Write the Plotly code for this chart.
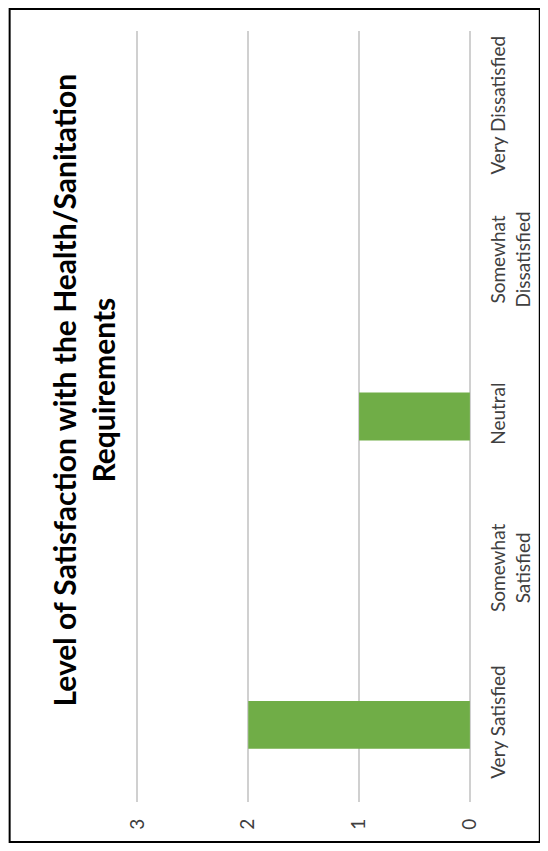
import plotly.graph_objects as go

categories = ["Very Satisfied", "Somewhat<br>Satisfied", "Neutral", "Somewhat<br>Dissatisfied", "Very Dissatisfied"]
values = [2, 0, 1, 0, 0]
tick_vals = [0, 1, 2, 3]
tick_text = ["0", "1", "2", "3"]
title_text = "Level of Satisfaction with the Health/Sanitation<br>Requirements"

# page body has an 8px margin; figure sized to fit viewport
OFF = 8
W, H = 548 - 2 * OFF, 851 - 2 * OFF
X3, X0 = 137, 470          # viewport pixel positions of value 3 and value 0
PAD_HI, PAD_LO = 0.04, 0.01  # range padding so edge gridlines are drawn
unit = (X0 - X3) / 3.0
left_px = X3 - PAD_HI * unit
right_px = X0 + PAD_LO * unit
L = left_px - OFF
R = W - (right_px - OFF)
T, B = 31 - OFF, H - (802 - OFF)
pw = W - L - R
ph = H - T - B

def px_x(x):
    return (x - OFF - L) / pw

def px_y(y):
    return (H - B - (y - OFF)) / ph

fig = go.Figure(go.Bar(
    y=categories, x=values, orientation="h",
    marker=dict(color="#70ad47", line=dict(width=0)),
))

fig.update_layout(
    width=W, height=H,
    margin=dict(l=L, r=R, t=T, b=B, autoexpand=False),
    paper_bgcolor="white", plot_bgcolor="white",
    bargap=0.69,
    showlegend=False,
    font=dict(family="Lato, 'Open Sans', sans-serif", color="#404040", size=19),
    xaxis=dict(range=[3 + PAD_HI, -PAD_LO], tickvals=tick_vals, ticktext=tick_text, tickangle=-90,
               showgrid=True, gridcolor="#d0d0d0", gridwidth=1.5,
               zeroline=True, zerolinecolor="#d0d0d0", zerolinewidth=1.5,
               showline=False, ticks="", ticklabelstandoff=12, automargin=False,
               tickfont=dict(size=19, color="#404040")),
    yaxis=dict(side="right", tickangle=-90, showgrid=False, zeroline=False,
               showline=False, ticks="", ticklabelstandoff=14, automargin=False,
               tickfont=dict(size=19, color="#404040"),
               categoryorder="array", categoryarray=categories),
    annotations=[dict(
        text=title_text, x=px_x(82), y=px_y(390), xref="paper", yref="paper",
        showarrow=False, textangle=-90, xanchor="center", yanchor="middle",
        font=dict(family="Lato, 'Open Sans', sans-serif", size=30, color="#000000", weight="bold"),
        align="center",
    )],
    shapes=[dict(type="rect", xref="paper", yref="paper",
                 x0=px_x(OFF + 1), x1=px_x(540), y0=px_y(H + OFF - 1), y1=px_y(OFF + 1),
                 line=dict(color="#000000", width=2), fillcolor="rgba(0,0,0,0)", layer="above")],
)

fig.write_html("out.html")
